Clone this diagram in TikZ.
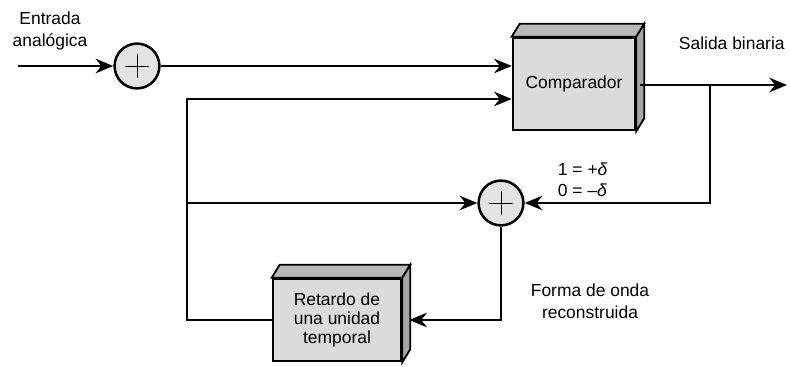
\documentclass[tikz,border=0pt]{standalone}
\usepackage{fontspec}
\setmainfont{Liberation Sans}
\usepackage{tikz}
\usetikzlibrary{arrows.meta,calc}

\begin{document}
\begin{tikzpicture}[
  x=0.025cm, y=-0.025cm,
  font=\fontsize{12.4}{15.5}\selectfont,
  block/.style={draw, line width=1.8pt, fill=gray!28, align=center, inner sep=2pt},
  sum/.style={draw, circle, line width=1.8pt, fill=gray!22, minimum size=1.12cm, inner sep=0pt,
    path picture={\draw[line width=0.7pt] ($(path picture bounding box.center)+(-12,0)$) -- ++(24,0)
      ($(path picture bounding box.center)+(0,-12)$) -- ++(0,24);}},
  line/.style={line width=2pt},
  arrow/.style={line width=2pt, -{Stealth[length=4.4mm, width=3.6mm]}}
]
\useasboundingbox (0,0) rectangle (790,367);

% blocks
\node[block, minimum width=3.05cm, minimum height=2.3cm] (comp) at (574,84) {Comparador};
\node[block, minimum width=3.2cm, minimum height=2.05cm, font=\fontsize{12.4}{13.2}\selectfont] (delay) at (337,320) {Retardo de\\una unidad\\temporal};
\foreach \b in {comp, delay} {
  \draw[line width=1.3pt, fill=gray!55] (\b.north west) -- ++(8,-13) -- ($(\b.north east)+(8,-13)$) -- (\b.north east) -- cycle;
  \draw[line width=1.3pt, fill=gray!70] (\b.north east) -- ++(8,-13) -- ($(\b.south east)+(8,-13)$) -- (\b.south east) -- cycle;
}

% summers
\node[sum] (sumin) at (137,66) {};
\node[sum] (sumfb) at (501,203) {};

% points
\coordinate (in) at (18,66);
\coordinate (out) at (787,85);
\coordinate (tap) at (710,85);
\coordinate (loopup) at (187,99);
\coordinate (loopmid) at (187,203);

% labels
\node[align=center] (inlbl) at (50,31) {Entrada\\analógica};
\node[anchor=west] (outlbl) at (674,43) {Salida binaria};
\node[anchor=west] (plus) at (553,169) {1 = +\textit{δ}};
\node[anchor=west] (minus) at (553,190) {0 = –\textit{δ}};
\node[align=center] (reclbl) at (590,301) {Forma de onda\\reconstruida};

% connections
\draw[arrow] (in) -- (sumin);
\draw[arrow] (sumin) -- (sumin -| comp.west);
\draw[arrow] ($(comp.east)+(4,1)$) -- (out);
\draw[arrow] (tap) |- (sumfb);
\draw[arrow] (delay.west) -| (loopup) -- (loopup -| comp.west);
\draw[arrow] (loopmid) -- (sumfb);
\draw[arrow] (sumfb) |- ($(delay.east)+(7,0)$);
\end{tikzpicture}
\end{document}
